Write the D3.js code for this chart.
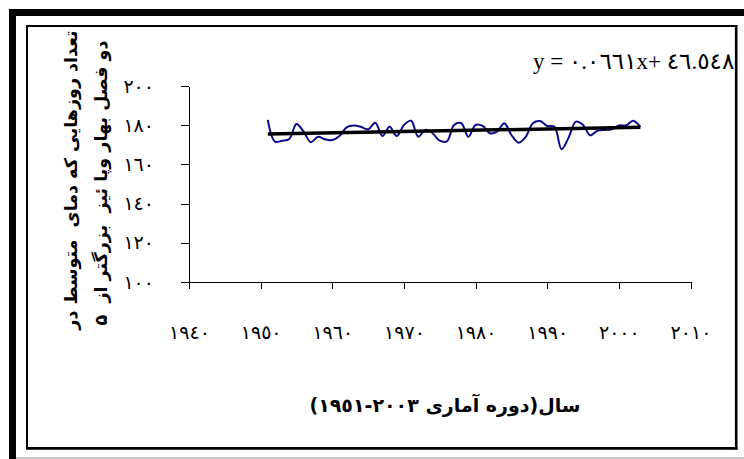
<!DOCTYPE html>
<html><head><meta charset="utf-8">
<script src="https://cdn.jsdelivr.net/npm/d3@7"></script>
<style>
html,body{margin:0;padding:0;background:#fff;}
svg{display:block;}
</style></head>
<body>
<svg id="chart" width="744" height="459"></svg>
<script>
// ---- data ----
const years = [1951,1952,1953,1954,1955,1956,1957,1958,1959,1960,1961,1962,1963,1964,1965,1966,1967,1968,1969,1970,
  1971,1972,1973,1974,1975,1976,1977,1978,1979,1980,1981,1982,1983,1984,1985,1986,1987,1988,1989,1990,
  1991,1992,1993,1994,1995,1996,1997,1998,1999,2000,2001,2002,2003];
const days = [182.7,171.6,172.1,173.0,180.6,176.7,171.3,174.1,172.8,172.4,174.5,178.9,179.8,179.2,177.9,181.3,174.5,179.2,174.5,180.1,
  182.3,174.1,177.6,175.9,172.1,171.8,180.1,181.0,174.1,180.1,179.6,175.9,176.7,181.0,175.0,171.1,174.1,181.0,182.1,179.6,
  179.3,167.7,173.8,181.8,180.1,174.8,177.2,177.6,177.9,179.9,179.9,182.3,179.2];
const trendSlope = 0.0661;
const trendIntercept = 46.548;
const xTicks = [1940,1950,1960,1970,1980,1990,2000,2010];
const yTicks = [100,120,140,160,180,200];
const eqSlopeText = "٠.٠٦٦١";
const eqInterceptText = "٤٦.٥٤٨";
const yTitleLines = ["تعداد روزهایی که دمای  متوسط در", "دو فصل بهار وپا ئیز  بزرگتر از  ۵"];
const xTitle = "سال(دوره آماری ١٩٥١\u200E-\u200E٢٠٠٣)";

const arDigits = "٠١٢٣٤٥٦٧٨٩";
const toAr = v => String(v).replace(/\d/g, d => arDigits[+d]);

const svg = d3.select("#chart");
svg.append("rect").attr("width",744).attr("height",459).attr("fill","#fff");

// frames
svg.append("rect").attr("x",9).attr("y",9).attr("width",735).attr("height",7).attr("fill","#000");
svg.append("rect").attr("x",9).attr("y",9).attr("width",7).attr("height",450).attr("fill","#000");
svg.append("line").attr("x1",16).attr("x2",744).attr("y1",458).attr("y2",458).attr("stroke","#999").attr("stroke-width",1);
svg.append("rect").attr("x",27).attr("y",26).attr("width",709).attr("height",422)
  .attr("fill","none").attr("stroke","#000").attr("stroke-width",2);
svg.append("line").attr("x1",736.2).attr("x2",736.2).attr("y1",25).attr("y2",449.5).attr("stroke","#000").attr("stroke-width",2.6);
svg.append("line").attr("x1",26).attr("x2",737.5).attr("y1",448.5).attr("y2",448.5).attr("stroke","#000").attr("stroke-width",2.6);

// scales
const x = d3.scaleLinear().domain([1940,2010]).range([189,690.5]);
const y = d3.scaleLinear().domain([100,200]).range([282,86]);

const font = "'Liberation Serif','DejaVu Sans',serif";

const xAxis = svg.append("g").attr("transform","translate(0,282)")
  .call(d3.axisBottom(x).tickValues(xTicks).tickFormat(toAr).tickSize(7).tickSizeOuter(0).tickPadding(37));
const yAxis = svg.append("g").attr("transform","translate(189,0)")
  .call(d3.axisLeft(y).tickValues(yTicks).tickFormat(toAr).tickSize(8).tickSizeOuter(0).tickPadding(27));
[xAxis,yAxis].forEach(g=>{
  g.selectAll("path,line").attr("stroke","#000").attr("stroke-width",1).attr("shape-rendering","crispEdges");
  g.selectAll("text").attr("fill","#000").style("font-family",font).style("font-size","19px").style("letter-spacing","2.5px");
});

// data line
const line = d3.line().x((d,i)=>x(years[i])).y(d=>y(d)).curve(d3.curveCatmullRom.alpha(0.5));
svg.append("path").datum(days).attr("d",line).attr("fill","none").attr("stroke","#0a0a8c").attr("stroke-width",2);

// trend
const y0 = years[0], y1 = years[years.length-1];
svg.append("line")
  .attr("x1",x(y0)).attr("y1",y(trendSlope*y0+trendIntercept))
  .attr("x2",x(y1)).attr("y2",y(trendSlope*y1+trendIntercept))
  .attr("stroke","#000").attr("stroke-width",3.5);

// equation (clipped by frame)
svg.append("clipPath").attr("id","eqclip").append("rect").attr("x",0).attr("y",0).attr("width",735).attr("height",459);
const eq = svg.append("text").attr("x",533).attr("y",69).attr("clip-path","url(#eqclip)")
  .attr("direction","ltr").style("font-family",font).style("font-size","23px").attr("fill","#000");
eq.append("tspan").text("y = ");
eq.append("tspan").style("letter-spacing","3px").text(eqSlopeText);
eq.append("tspan").text("x+ ");
eq.append("tspan").style("letter-spacing","3px").text(eqInterceptText);

// titles
svg.append("text").attr("x",445).attr("y",412).attr("text-anchor","middle").attr("direction","rtl")
  .style("font-family","'DejaVu Sans',sans-serif").style("font-weight","bold").style("font-size","19px").text(xTitle);

yTitleLines.forEach((t,i)=>{
  svg.append("text").attr("transform",`translate(${77+i*30},${180+i*3}) rotate(-90)`)
    .attr("text-anchor","middle").attr("direction","rtl").style("white-space","pre")
    .style("font-family","'DejaVu Sans',sans-serif").style("font-weight","bold").style("font-size","17.5px").text(t);
});
</script>
</body></html>
